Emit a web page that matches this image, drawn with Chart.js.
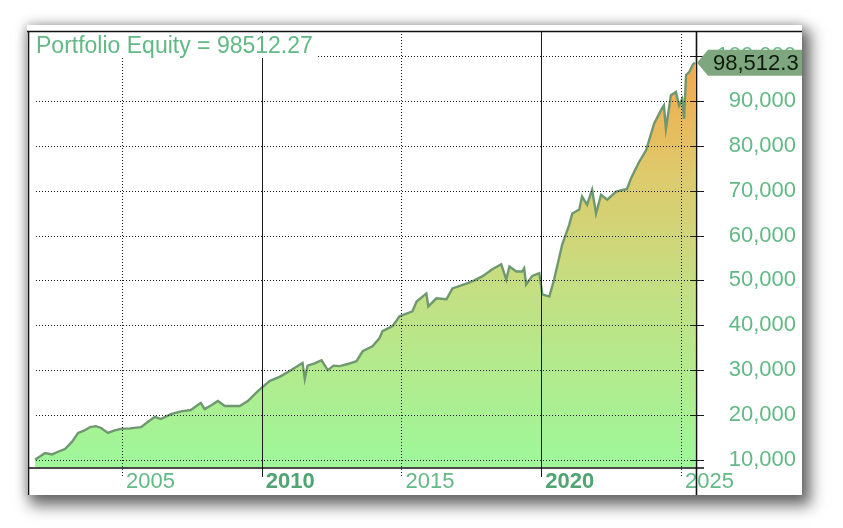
<!DOCTYPE html>
<html>
<head>
<meta charset="utf-8">
<script src="https://cdn.jsdelivr.net/npm/chart.js@4.4.1/dist/chart.umd.min.js"></script>
<style>
  html, body { margin:0; padding:0; background:#ffffff; width:843px; height:528px; overflow:hidden; }
  #card { position:absolute; left:27px; top:25px; width:775px; height:470px; background:#fff;
          box-shadow: 6px 8px 14px 3px rgba(0,0,0,0.55), 0 0 10px 1px rgba(0,0,0,0.22); overflow:hidden; }
  canvas { display:block; }
</style>
</head>
<body>
<div id="card"><canvas id="c" width="775" height="470"></canvas></div>
<script>
// ---- data ----
const titleText = "Portfolio Equity = 98512.27";
const lastValue = 98512.27;
const yearTicks = [2005, 2010, 2015, 2020, 2025];
const boldYears = [2010, 2020];
const equityTicks = [10000, 20000, 30000, 40000, 50000, 60000, 70000, 80000, 90000, 100000];
const years = [
  2001.89, 2002.10, 2002.25, 2002.50, 2002.71, 2002.96, 2003.21, 2003.43, 2003.64, 2003.86,
  2004.07, 2004.25, 2004.50, 2004.71, 2004.96, 2005.29, 2005.68, 2005.93, 2006.18, 2006.39,
  2006.75, 2007.11, 2007.46, 2007.82, 2007.96, 2008.21, 2008.43, 2008.68, 2009.21, 2009.50,
  2009.86, 2010.29, 2010.64, 2011.00, 2011.46, 2011.54, 2011.64, 2011.89, 2012.14, 2012.36,
  2012.57, 2012.79, 2013.04, 2013.39, 2013.61, 2013.96, 2014.21, 2014.32, 2014.68, 2014.93,
  2015.39, 2015.54, 2015.89, 2015.96, 2016.25, 2016.61, 2016.82, 2017.32, 2017.61, 2017.89,
  2018.25, 2018.57, 2018.75, 2018.86, 2019.11, 2019.32, 2019.39, 2019.46, 2019.68, 2019.93,
  2020.04, 2020.29, 2020.46, 2020.75, 2021.00, 2021.11, 2021.36, 2021.46, 2021.64, 2021.82,
  2021.96, 2022.14, 2022.36, 2022.68, 2023.07, 2023.21, 2023.50, 2023.75, 2024.04, 2024.29,
  2024.39, 2024.46, 2024.64, 2024.82, 2024.93, 2025.04, 2025.11, 2025.18, 2025.29, 2025.43,
  2025.50
];
const equity = [
  10000, 10900, 11500, 11200, 11800, 12400, 14000, 16000, 16500, 17300,
  17500, 17100, 16000, 16500, 16900, 17000, 17300, 18500, 19600, 19100,
  20200, 20800, 21100, 22700, 21300, 22200, 23100, 22000, 22000, 23100,
  25300, 27600, 28500, 29800, 31600, 28000, 31000, 31500, 32200, 30000,
  31000, 30900, 31300, 32000, 34200, 35300, 37100, 38700, 39800, 42000,
  43100, 45300, 47100, 44200, 46000, 45800, 48200, 49300, 50000, 50900,
  52500, 53600, 50200, 53100, 52000, 52000, 52700, 49100, 51000, 51600,
  46900, 46400, 50200, 58000, 62400, 64900, 65800, 68700, 66900, 70200,
  64900, 69100, 68000, 69800, 70400, 72700, 76400, 79000, 85000, 88000,
  89000, 83800, 91300, 92000, 89000, 90400, 86000, 95800, 96400, 98200,
  98512.27
];

const FONT = "'Liberation Sans', Arial, sans-serif";
const LABEL_GREEN = '#63b985';

const overlay = {
  id: 'overlay',
  afterDatasetsDraw(chart) {
    const {ctx, chartArea: a, scales: {x, y}} = chart;
    const W = chart.width, H = chart.height;
    ctx.save();
    ctx.lineWidth = 1;
    ctx.strokeStyle = '#1a1a1a';
    // horizontal dotted grid + ticks at axis
    equityTicks.forEach(v => {
      const py = Math.round(y.getPixelForValue(v)) + 0.5;
      ctx.setLineDash([1, 2]);
      ctx.beginPath(); ctx.moveTo(a.left + 8, py); ctx.lineTo(a.right, py); ctx.stroke();
      ctx.setLineDash([]);
      ctx.beginPath(); ctx.moveTo(a.right - 5, py); ctx.lineTo(a.right + 8, py); ctx.stroke();
    });
    // vertical grid
    yearTicks.forEach(v => {
      const px = Math.round(x.getPixelForValue(v)) + 0.5;
      const solid = boldYears.includes(v);
      ctx.setLineDash(solid ? [] : [1, 2]);
      ctx.beginPath(); ctx.moveTo(px, a.top); ctx.lineTo(px, a.bottom + 10); ctx.stroke();
    });
    ctx.setLineDash([]);
    // frame lines
    ctx.lineWidth = 1.6;
    ctx.strokeStyle = '#111';
    ctx.beginPath();
    ctx.moveTo(0, a.top + 0.5); ctx.lineTo(W, a.top + 0.5);
    ctx.moveTo(a.left + 0.5, a.top); ctx.lineTo(a.left + 0.5, H);
    ctx.moveTo(a.right + 0.5, a.top); ctx.lineTo(a.right + 0.5, H);
    ctx.moveTo(a.left, a.bottom + 1); ctx.lineTo(a.right + 8, a.bottom + 1);
    ctx.stroke();
    // title with white backing box
    ctx.font = '23px ' + FONT;
    const tw = ctx.measureText(titleText).width;
    ctx.fillStyle = '#ffffff';
    ctx.fillRect(a.left + 2, a.top + 2, tw + 10, 25);
    ctx.fillStyle = LABEL_GREEN;
    ctx.textBaseline = 'alphabetic';
    ctx.textAlign = 'left';
    ctx.fillText(titleText, a.left + 8, a.top + 22);
    // last value tag
    ctx.font = '22px ' + FONT;
    const ty = y.getPixelForValue(lastValue);
    const tx = a.right + 1;
    ctx.fillStyle = '#7fa77f';
    ctx.beginPath();
    ctx.moveTo(tx, ty);
    ctx.lineTo(tx + 11, ty - 13);
    ctx.lineTo(W + 5, ty - 13);
    ctx.lineTo(W + 5, ty + 13);
    ctx.lineTo(tx + 11, ty + 13);
    ctx.closePath();
    ctx.fill();
    ctx.fillStyle = '#0d1a0d';
    ctx.textBaseline = 'middle';
    ctx.fillText(lastValue.toLocaleString('en-US', {minimumFractionDigits: 1, maximumFractionDigits: 1}), tx + 16, ty + 1);
    ctx.restore();
  }
};

const ctx = document.getElementById('c').getContext('2d');
new Chart(ctx, {
  type: 'line',
  data: {
    datasets: [{
      data: years.map((yr, i) => ({x: yr, y: equity[i]})),
      borderColor: '#6f9870',
      borderWidth: 2.4,
      pointRadius: 0,
      tension: 0,
      fill: 'start',
      backgroundColor: (c) => {
        const ch = c.chart;
        if (!ch.chartArea) return '#a0f598';
        const ys = ch.scales.y;
        const g = ch.ctx.createLinearGradient(0, ys.getPixelForValue(10000), 0, ys.getPixelForValue(95000));
        g.addColorStop(0, '#9ff799');
        g.addColorStop(0.45, '#c4df82');
        g.addColorStop(0.75, '#deca6c');
        g.addColorStop(1, '#f2ab4c');
        return g;
      }
    }]
  },
  options: {
    responsive: false,
    animation: false,
    devicePixelRatio: 1,
    layout: { padding: { left: 1, top: 6, right: 6, bottom: 0 } },
    plugins: { legend: { display: false }, title: { display: false }, tooltip: { enabled: false } },
    scales: {
      x: {
        type: 'linear',
        min: 2001.637,
        max: 2025.537,
        grid: { display: false, drawTicks: false },
        border: { display: false },
        afterBuildTicks: (s) => { s.ticks = yearTicks.map(v => ({value: v})); },
        afterFit: (s) => { s.height = 28; s.paddingLeft = 0; s.paddingRight = 0; s.paddingTop = 0; s.paddingBottom = 0; },
        ticks: {
          align: 'start',
          labelOffset: 4,
          padding: 2,
          maxRotation: 0,
          autoSkip: false,
          callback: (v) => String(v),
          color: (c) => (c.tick && boldYears.includes(c.tick.value)) ? '#4fa572' : LABEL_GREEN,
          font: (c) => ({ family: FONT, size: 22,
                          weight: (c.tick && boldYears.includes(c.tick.value)) ? 'bold' : 'normal' })
        }
      },
      y: {
        position: 'right',
        min: 8400,
        max: 105600,
        grid: { display: false, drawTicks: false },
        border: { display: false },
        afterBuildTicks: (s) => { s.ticks = equityTicks.map(v => ({value: v})); },
        afterFit: (s) => { s.width = 100; s.paddingTop = 0; s.paddingBottom = 0; s.paddingLeft = 0; s.paddingRight = 0; },
        ticks: {
          crossAlign: 'far',
          padding: 14,
          autoSkip: false,
          callback: (v) => v.toLocaleString('en-US'),
          color: LABEL_GREEN,
          font: { family: FONT, size: 22 }
        }
      }
    }
  },
  plugins: [overlay]
});
</script>
</body>
</html>
